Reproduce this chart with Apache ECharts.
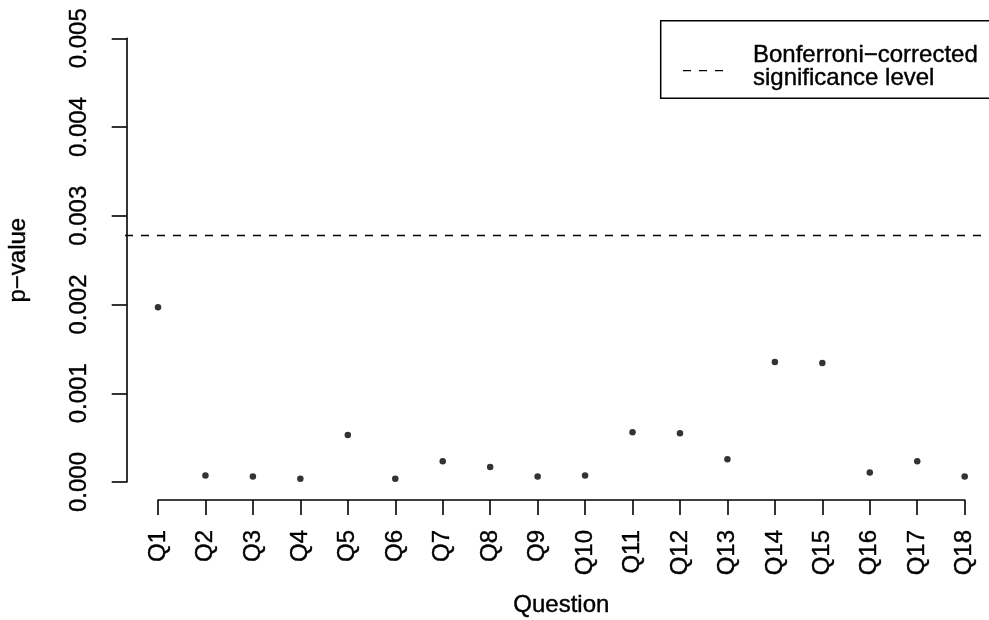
<!DOCTYPE html>
<html>
<head>
<meta charset="utf-8">
<script src="https://cdn.jsdelivr.net/npm/echarts@6/dist/echarts.min.js"></script>
<style>
html,body{margin:0;padding:0;background:#fff;}
#chart{width:989px;height:620px;}
</style>
</head>
<body>
<div id="chart"></div>
<script>
var questions = ['Q1','Q2','Q3','Q4','Q5','Q6','Q7','Q8','Q9','Q10','Q11','Q12','Q13','Q14','Q15','Q16','Q17','Q18'];
var pValues = [0.00197, 0.000072, 0.000061, 0.000038, 0.00053, 0.000038, 0.000233, 0.000169, 0.000061, 0.000072, 0.00056, 0.00055, 0.000256, 0.001353, 0.001342, 0.000106, 0.000233, 0.000061];
var yTickLabels = ['0.000','0.001','0.002','0.003','0.004','0.005'];
var threshold = 0.05 / 18;
var legendLines = ['Bonferroni\u2212corrected', 'significance level'];

var FONT = 'Liberation Sans, Arial, Helvetica, sans-serif';
var FS = 24;
var txt = {color: '#000', fontFamily: FONT, fontSize: FS, textBorderColor: '#000', textBorderWidth: 0.4};

var chart = echarts.init(document.getElementById('chart'), null, {renderer: 'canvas'});
chart.setOption({
  backgroundColor: '#fff',
  animation: false,
  grid: [
    // axis region: ticks span Q1..Q18 and 0..0.005
    {left: 158, width: 806.7, top: 38.3, height: 443.7, containLabel: false, outerBoundsMode: 'none'},
    // full plot region, used for the abline-like threshold
    {left: 125, right: 0, top: 38.3, height: 443.7, containLabel: false, outerBoundsMode: 'none'}
  ],
  xAxis: [
    {
      type: 'category', gridIndex: 0, data: questions, boundaryGap: false,
      offset: 18,
      axisLine: {show: true, onZero: false, lineStyle: {color: '#000', width: 1.6}},
      axisTick: {show: true, inside: false, length: 15, lineStyle: {color: '#000', width: 1.6}},
      axisLabel: Object.assign({show: true, rotate: 90, interval: 0, margin: 30}, txt),
      splitLine: {show: false},
      name: 'Question', nameLocation: 'middle', nameGap: 93,
      nameTextStyle: txt
    },
    {type: 'value', gridIndex: 1, min: 0, max: 1, show: false}
  ],
  yAxis: [
    {
      type: 'value', gridIndex: 0, min: 0, max: 0.005, interval: 0.001,
      offset: 31.3,
      axisLine: {show: true, onZero: false, lineStyle: {color: '#000', width: 1.6}},
      axisTick: {show: true, inside: false, length: 15, lineStyle: {color: '#000', width: 1.6}},
      axisLabel: Object.assign({
        show: true, rotate: 90, margin: 35,
        formatter: function (v) { return yTickLabels[Math.round(v / 0.001)]; }
      }, txt),
      splitLine: {show: false},
      name: 'p\u2212value', nameLocation: 'middle', nameGap: 96, nameRotate: 90,
      nameTextStyle: txt
    },
    {type: 'value', gridIndex: 1, min: 0, max: 0.005, show: false}
  ],
  series: [
    {
      type: 'scatter', xAxisIndex: 0, yAxisIndex: 0,
      data: pValues, symbol: 'circle', symbolSize: 6.5,
      itemStyle: {color: '#000'}, silent: true
    },
    {
      type: 'line', xAxisIndex: 1, yAxisIndex: 1, silent: true,
      data: [[0, threshold], [1, threshold]], symbol: 'none',
      lineStyle: {color: '#000', type: [8, 8], width: 1.3}
    }
  ],
  graphic: [
    {type: 'rect', shape: {x: 660.7, y: 20.7, width: 400, height: 77.6},
     style: {fill: '#fff', stroke: '#000', lineWidth: 1.5}, z: 10},
    {type: 'line', shape: {x1: 683, y1: 70.7, x2: 727, y2: 70.7},
     style: {stroke: '#000', lineWidth: 1.3, lineDash: [8, 8]}, z: 11},
    {type: 'text', x: 753, y: 55, z: 11,
     style: {text: legendLines[0], fill: '#000', font: FS + 'px ' + FONT, stroke: '#000', lineWidth: 0.4, textVerticalAlign: 'middle', textAlign: 'left'}},
    {type: 'text', x: 753, y: 78.5, z: 11,
     style: {text: legendLines[1], fill: '#000', font: FS + 'px ' + FONT, stroke: '#000', lineWidth: 0.4, textVerticalAlign: 'middle', textAlign: 'left'}}
  ]
});
</script>
</body>
</html>
